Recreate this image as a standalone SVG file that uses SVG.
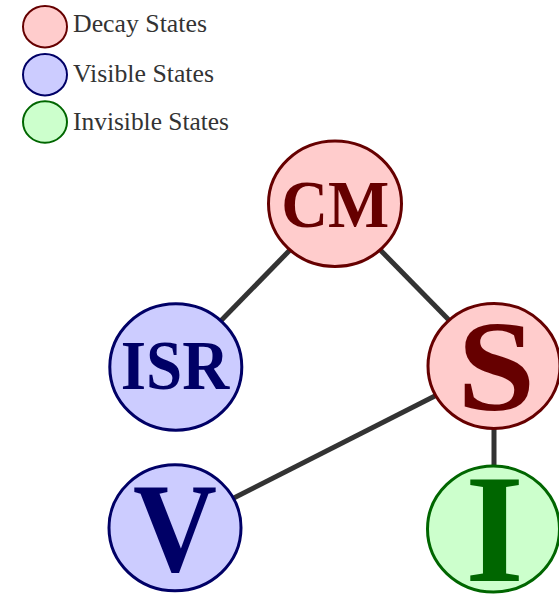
<svg xmlns="http://www.w3.org/2000/svg" width="559" height="594" viewBox="0 0 559 594">
<style>
.decay{fill:#ffcccc;stroke:#660000;stroke-width:3}
.visible{fill:#ccccff;stroke:#000066;stroke-width:3}
.invisible{fill:#ccffcc;stroke:#006600;stroke-width:3}
.leg{stroke-width:2}
.legtext{font-family:"Liberation Serif","Times New Roman",serif;font-size:24.4px;fill:#333333}
.lbl{font-family:"Liberation Serif","Times New Roman",serif;font-weight:bold;text-anchor:middle}
.td{fill:#660000}.tv{fill:#000066}.ti{fill:#006600}
.edge{stroke:#333333;stroke-width:5;fill:none}
</style>
<rect width="559" height="594" fill="#ffffff"/>
<g id="legend">
<ellipse class="decay leg" cx="45" cy="26.7" rx="22" ry="20.7"/>
<text class="legtext" x="73" y="32" textLength="134" lengthAdjust="spacingAndGlyphs">Decay States</text>
<ellipse class="visible leg" cx="45" cy="74.7" rx="22" ry="20.7"/>
<text class="legtext" x="73" y="81.7" textLength="141" lengthAdjust="spacingAndGlyphs">Visible States</text>
<ellipse class="invisible leg" cx="45" cy="122" rx="22" ry="20.7"/>
<text class="legtext" x="73" y="130" textLength="156" lengthAdjust="spacingAndGlyphs">Invisible States</text>
</g>
<g id="connectors">
<line class="edge" x1="335" y1="203.8" x2="175.8" y2="367"/>
<line class="edge" x1="335" y1="203.8" x2="494" y2="366"/>
<line class="edge" x1="494" y1="366" x2="175" y2="527.8"/>
<line class="edge" x1="494" y1="366" x2="494" y2="529"/>
</g>
<g id="node-CM">
<ellipse class="decay" cx="335" cy="203.8" rx="66.5" ry="62.7"/>
<text class="lbl td" x="335.2" y="226.7" font-size="67" textLength="108" lengthAdjust="spacingAndGlyphs">CM</text>
</g>
<g id="node-ISR">
<ellipse class="visible" cx="175.8" cy="367" rx="66" ry="63.2"/>
<text class="lbl tv" x="175" y="389.3" font-size="70" textLength="108.5" lengthAdjust="spacingAndGlyphs">ISR</text>
</g>
<g id="node-S">
<ellipse class="decay" cx="494" cy="366" rx="66" ry="62.5"/>
<text class="lbl td" x="496.3" y="409.5" font-size="130" textLength="78" lengthAdjust="spacingAndGlyphs">S</text>
</g>
<g id="node-V">
<ellipse class="visible" cx="175" cy="527.8" rx="66" ry="63"/>
<text class="lbl tv" x="175" y="570.5" font-size="126" textLength="84" lengthAdjust="spacingAndGlyphs">V</text>
</g>
<g id="node-I">
<ellipse class="invisible" cx="493.5" cy="529" rx="66" ry="63"/>
<text class="lbl ti" x="494.6" y="581" font-size="154" textLength="58.6" lengthAdjust="spacingAndGlyphs">I</text>
</g>
</svg>
